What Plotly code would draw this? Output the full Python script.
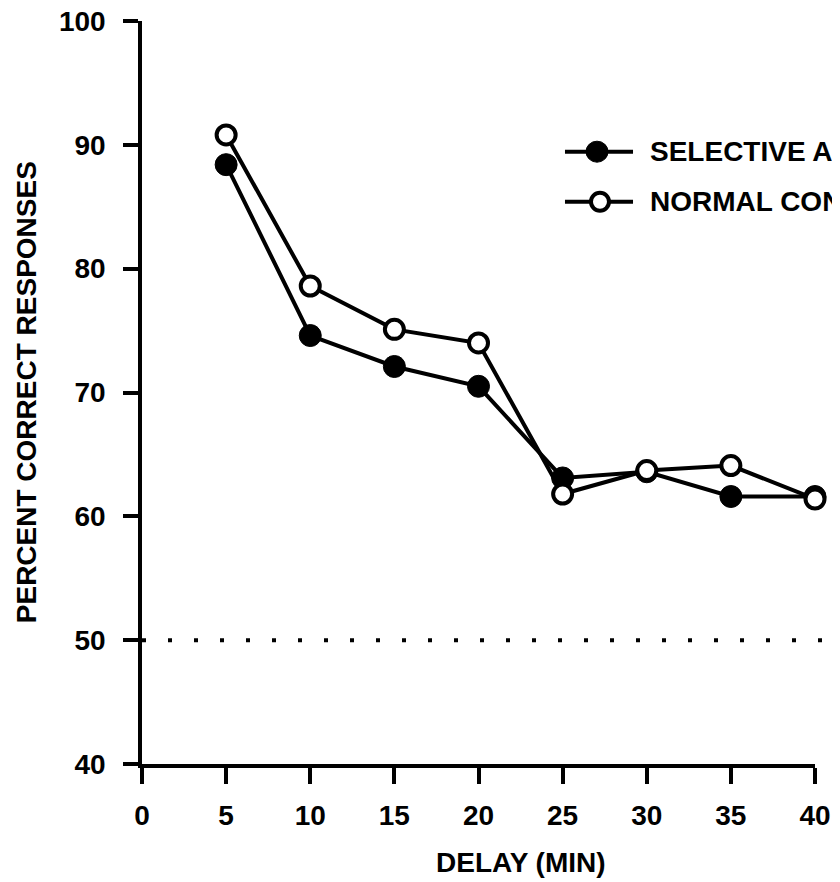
import plotly.graph_objects as go

delay_min = [5, 10, 15, 20, 25, 30, 35, 40]
selective = [88.4, 74.6, 72.1, 70.5, 63.1, 63.6, 61.6, 61.6]
normal = [90.8, 78.6, 75.1, 74.0, 61.8, 63.7, 64.1, 61.4]
x_ticks = [0, 5, 10, 15, 20, 25, 30, 35, 40]
y_ticks = [40, 50, 60, 70, 80, 90, 100]
chance_level = 50
legend_names = ["SELECTIVE A", "NORMAL CONTROLS"]

FONT = "Liberation Sans, Arial, Helvetica, sans-serif"
FS = 28

fig = go.Figure()
fig.add_trace(go.Scatter(
    x=delay_min, y=selective, mode="lines+markers", name=legend_names[0],
    line=dict(color="black", width=4),
    marker=dict(symbol="circle", size=22, color="black", line=dict(color="black", width=1)),
    showlegend=False, cliponaxis=False,
))
fig.add_trace(go.Scatter(
    x=delay_min, y=normal, mode="lines+markers", name=legend_names[1],
    line=dict(color="black", width=4),
    marker=dict(symbol="circle", size=19, color="white", line=dict(color="black", width=4)),
    showlegend=False, cliponaxis=False,
))

# chance line (dotted), running past the right edge
fig.add_shape(type="line", xref="paper", yref="y", x0=0, x1=1.2, y0=chance_level, y1=chance_level,
              line=dict(color="black", width=4, dash="4px,22px"), layer="below")

# manual legend
leg_rows = [0.8241, 0.7568]
fig.add_shape(type="line", xref="paper", yref="paper", x0=0.6285, x1=0.7296, y0=leg_rows[0], y1=leg_rows[0],
              line=dict(color="black", width=4))
fig.add_shape(type="line", xref="paper", yref="paper", x0=0.6285, x1=0.7296, y0=leg_rows[1], y1=leg_rows[1],
              line=dict(color="black", width=4))
fig.add_shape(type="circle", xref="paper", yref="paper", xsizemode="pixel", ysizemode="pixel",
              xanchor=0.6761, yanchor=leg_rows[0], x0=-11, x1=11, y0=-10.5, y1=10.5,
              fillcolor="black", line=dict(color="black", width=1))
fig.add_shape(type="circle", xref="paper", yref="paper", xsizemode="pixel", ysizemode="pixel",
              xanchor=0.6805, yanchor=leg_rows[1], x0=-9, x1=9, y0=-9, y1=9,
              fillcolor="white", line=dict(color="black", width=4))
for name, yy in zip(legend_names, leg_rows):
    fig.add_annotation(text=name, xref="paper", yref="paper", x=0.7519, y=yy, xanchor="left",
                       yanchor="middle", showarrow=False,
                       font=dict(family=FONT, size=FS, color="black", weight="bold"))

# axis titles
fig.add_annotation(text="PERCENT CORRECT RESPONSES", xref="paper", yref="paper", x=-0.1713, y=0.5,
                   textangle=-90, xanchor="center", yanchor="middle", showarrow=False,
                   font=dict(family=FONT, size=FS, color="black", weight="bold"))
fig.add_annotation(text="DELAY (MIN)", xref="paper", yref="paper", x=0.563, y=-0.1332,
                   xanchor="center", yanchor="middle", showarrow=False,
                   font=dict(family=FONT, size=FS, color="black", weight="bold"))

axis_common = dict(showline=True, linecolor="black", linewidth=3.5, ticks="outside",
                   tickcolor="black", tickwidth=3.5, showgrid=False, zeroline=False,
                   automargin=False, ticklabeloverflow="allow",
                   tickfont=dict(family=FONT, size=FS, color="black", weight="bold"))
fig.update_xaxes(range=[0, 40], tickvals=x_ticks, ticklen=16, ticklabelstandoff=8, **axis_common)
fig.update_yaxes(range=[40, 100], tickvals=y_ticks, ticklen=15, ticklabelstandoff=12, **axis_common)

# page body adds an 8px offset, so the figure is sized to fill the rest of the 840x882 window
fig.update_layout(width=832, height=874, margin=dict(l=134, r=25, t=13, b=118),
                  plot_bgcolor="white", paper_bgcolor="white", showlegend=False)

fig.write_html("out.html")
